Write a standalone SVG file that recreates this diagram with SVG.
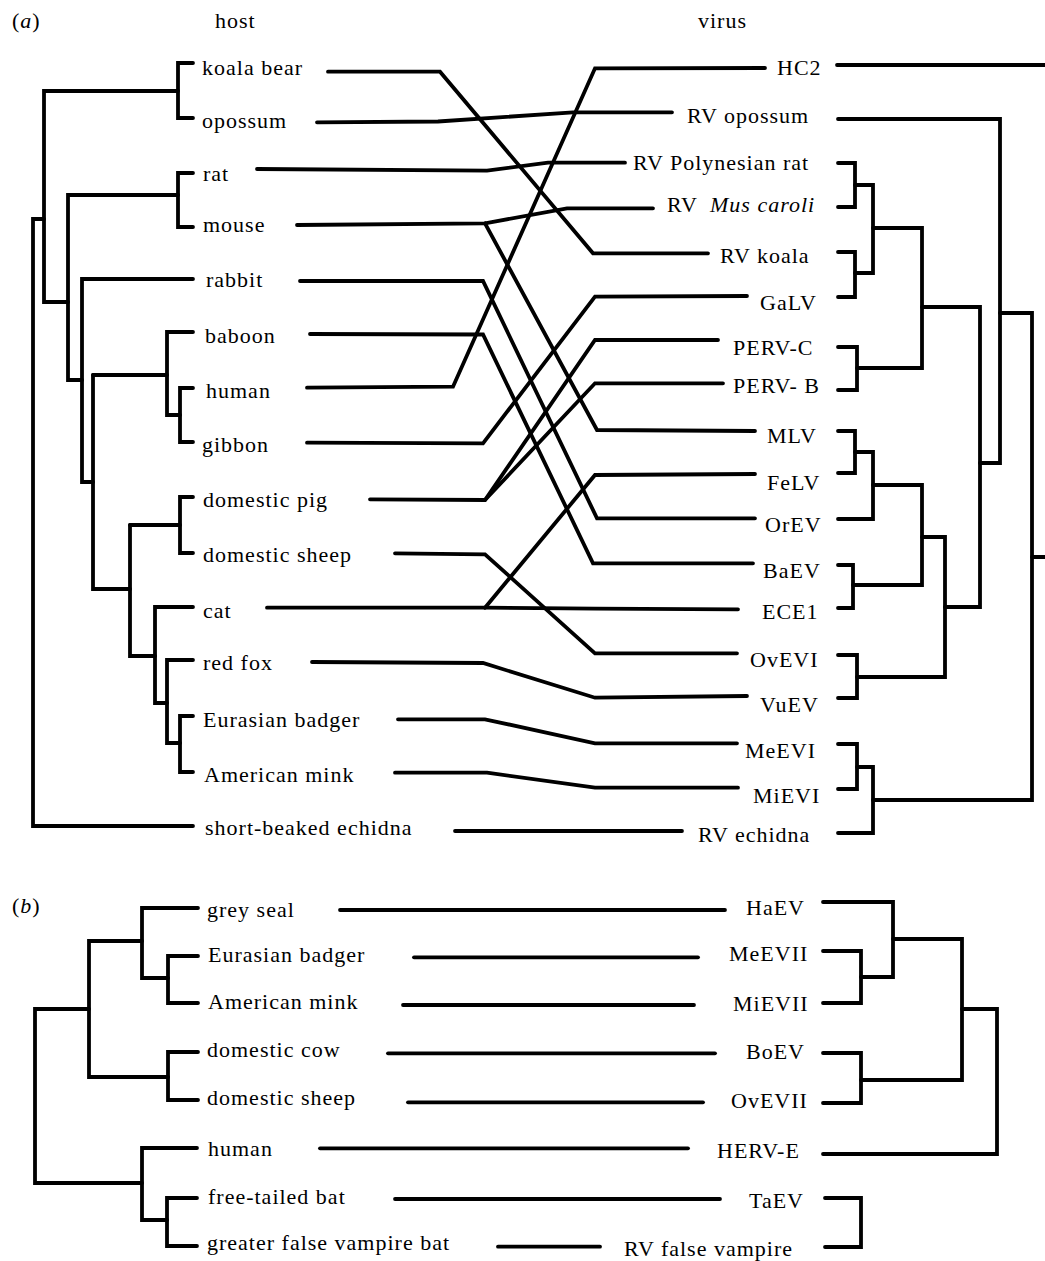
<svg xmlns="http://www.w3.org/2000/svg" width="1045" height="1261" viewBox="0 0 1045 1261">
<style>
text{font-family:"Liberation Serif","Times New Roman",serif;font-size:22px;letter-spacing:1px;fill:#000}
.it{font-style:italic}
.tr{fill:none;stroke:#000;stroke-width:3.8;stroke-linecap:round;stroke-linejoin:miter}
.cn{fill:none;stroke:#000;stroke-width:3.8;stroke-linecap:round;stroke-linejoin:miter}
</style>
<rect width="1045" height="1261" fill="#fff"/>
<g id="titles">
<text x="12" y="28">(<tspan class="it">a</tspan>)</text>
<text x="215" y="28">host</text>
<text x="698" y="28">virus</text>
<text x="12" y="913">(<tspan class="it">b</tspan>)</text>
</g>
<g id="connectors">
<g id="host-tree-a" class="tr">
<path d="M193,63 H178 V118 H193"/>
<path d="M178,91 H44 V302 H68"/>
<path d="M193,173 H178 V227 H193"/>
<path d="M178,195 H68 V380 H82"/>
<path d="M193,279 H82 V482 H93"/>
<path d="M93,375 V589 H130"/>
<path d="M93,375 H167"/>
<path d="M193,332 H167 V415 H180"/>
<path d="M193,388 H180 V442 H193"/>
<path d="M130,525 V656 H155"/>
<path d="M130,525 H180"/>
<path d="M193,497 H180 V553 H193"/>
<path d="M193,607 H155 V703 H167"/>
<path d="M193,660 H167 V743 H180"/>
<path d="M193,716 H180 V772 H193"/>
<path d="M44,219 H33 V826 H193"/>
</g>
<g id="virus-tree-a" class="tr">
<path d="M837,65 H1048"/>
<path d="M838,119 H1000 V463 H980"/>
<path d="M1000,313 H1032 V800 H873"/>
<path d="M1032,557 H1048"/>
<path d="M922,307 H980 V607 H945"/>
<path d="M873,228 H922 V368 H857"/>
<path d="M838,163 H855 V207 H838"/>
<path d="M855,185 H873 V273 H855"/>
<path d="M838,252 H855 V297 H838"/>
<path d="M838,347 H857 V390 H838"/>
<path d="M922,537 H945 V677 H857"/>
<path d="M873,485 H922 V585 H853"/>
<path d="M838,431 H855 V473 H838"/>
<path d="M855,452 H873 V519 H838"/>
<path d="M838,565 H853 V608 H838"/>
<path d="M838,655 H857 V698 H838"/>
<path d="M838,744 H857 V789 H838"/>
<path d="M857,767 H873 V833 H838"/>
</g>
<g id="links-a" class="cn">
<polyline points="328,71.7 440,71.7 593,253.3 708,253.3"/>
<polyline points="317,122.3 438,121.5 573,112.3 672,112.3"/>
<polyline points="257,169 487,170.7 548,162.7 625,162.7"/>
<polyline points="297,225 485,223.3 567,208.3 653,208.3"/>
<polyline points="485,223.3 597,430 755,431"/>
<polyline points="300,281 483,281 597,518.3 755,518.3"/>
<polyline points="310,334 483,334.5 593,563.3 753,563.3"/>
<polyline points="307,387.7 453,386.7 595,68.3 765,68"/>
<polyline points="307,442.7 483,443.3 595,296.7 747,296"/>
<polyline points="370,499.3 485,500 595,340 718,340"/>
<polyline points="485,500 595,383.3 723,383.3"/>
<polyline points="395,553.3 485,554.3 595,653.3 737,653.3"/>
<polyline points="267,607.7 485,607.7 595,608.7 738,609.3"/>
<polyline points="485,607.7 595,475 755,474"/>
<polyline points="312,662 483,663 595,697.7 747,696"/>
<polyline points="398,719.3 485,719.3 595,743.3 737,743.3"/>
<polyline points="395,772.7 487,772.7 595,787.7 738,787.7"/>
<polyline points="455,831 682,831"/>
</g>
<g id="host-tree-b" class="tr">
<path d="M198,908 H142 V978 H168"/>
<path d="M198,956 H168 V1003 H198"/>
<path d="M142,941 H89 V1077 H168"/>
<path d="M198,1052 H168 V1100 H198"/>
<path d="M89,1009 H35 V1183 H142"/>
<path d="M197,1148 H142 V1220 H167"/>
<path d="M197,1198 H167 V1246 H197"/>
</g>
<g id="virus-tree-b" class="tr">
<path d="M823,902 H893 V977 H861"/>
<path d="M823,951 H861 V1003 H823"/>
<path d="M893,939 H962 V1080 H861"/>
<path d="M823,1053 H861 V1103 H823"/>
<path d="M962,1009 H997 V1154 H823"/>
<path d="M825,1198 H861 V1247 H825"/>
</g>
<g id="links-b" class="cn">
<line x1="340" y1="910" x2="725" y2="910"/>
<line x1="414" y1="957.3" x2="698" y2="957.3"/>
<line x1="403" y1="1005" x2="694" y2="1005"/>
<line x1="388" y1="1053.3" x2="715" y2="1053.3"/>
<line x1="408" y1="1102.3" x2="703" y2="1102.3"/>
<line x1="320" y1="1148.3" x2="688" y2="1148.3"/>
<line x1="395" y1="1199" x2="720" y2="1199"/>
<line x1="498" y1="1246.7" x2="600" y2="1246.7"/>
</g>
</g>
<g id="hosts-a">
<g id="h-koala"><text x="202" y="75">koala bear</text></g>
<g id="h-opossum"><text x="202" y="128">opossum</text></g>
<g id="h-rat"><text x="203" y="181">rat</text></g>
<g id="h-mouse"><text x="203" y="232">mouse</text></g>
<g id="h-rabbit"><text x="206" y="287">rabbit</text></g>
<g id="h-baboon"><text x="205" y="343">baboon</text></g>
<g id="h-human"><text x="206" y="398">human</text></g>
<g id="h-gibbon"><text x="202" y="452">gibbon</text></g>
<g id="h-pig"><text x="203" y="507">domestic pig</text></g>
<g id="h-sheep"><text x="203" y="562">domestic sheep</text></g>
<g id="h-cat"><text x="203" y="618">cat</text></g>
<g id="h-fox"><text x="203" y="670">red fox</text></g>
<g id="h-badger"><text x="203" y="727">Eurasian badger</text></g>
<g id="h-mink"><text x="204" y="782">American mink</text></g>
<g id="h-echidna"><text x="205" y="835">short-beaked echidna</text></g>
</g>
<g id="viruses-a">
<g id="v-hc2"><text x="777" y="75">HC2</text></g>
<g id="v-rvopossum"><text x="687" y="123">RV opossum</text></g>
<g id="v-rvrat"><text x="633" y="170">RV Polynesian rat</text></g>
<g id="v-rvmus"><text x="667" y="212">RV </text><text x="710" y="212" class="it">Mus caroli</text></g>
<g id="v-rvkoala"><text x="720" y="263">RV koala</text></g>
<g id="v-galv"><text x="760" y="310">GaLV</text></g>
<g id="v-pervc"><text x="733" y="355">PERV-C</text></g>
<g id="v-pervb"><text x="733" y="393">PERV- B</text></g>
<g id="v-mlv"><text x="767" y="443">MLV</text></g>
<g id="v-felv"><text x="767" y="490">FeLV</text></g>
<g id="v-orev"><text x="765" y="532">OrEV</text></g>
<g id="v-baev"><text x="763" y="578">BaEV</text></g>
<g id="v-ece1"><text x="762" y="619">ECE1</text></g>
<g id="v-ovevi"><text x="750" y="667">OvEVI</text></g>
<g id="v-vuev"><text x="760" y="712">VuEV</text></g>
<g id="v-meevi"><text x="745" y="758">MeEVI</text></g>
<g id="v-mievi"><text x="753" y="803">MiEVI</text></g>
<g id="v-rvechidna"><text x="698" y="842">RV echidna</text></g>
</g>
<g id="hosts-b">
<g id="hb-seal"><text x="207" y="917">grey seal</text></g>
<g id="hb-badger"><text x="208" y="962">Eurasian badger</text></g>
<g id="hb-mink"><text x="208" y="1009">American mink</text></g>
<g id="hb-cow"><text x="207" y="1057">domestic cow</text></g>
<g id="hb-sheep"><text x="207" y="1105">domestic sheep</text></g>
<g id="hb-human"><text x="208" y="1156">human</text></g>
<g id="hb-ftbat"><text x="208" y="1204">free-tailed bat</text></g>
<g id="hb-gfvbat"><text x="207" y="1250">greater false vampire bat</text></g>
</g>
<g id="viruses-b">
<g id="vb-haev"><text x="746" y="915">HaEV</text></g>
<g id="vb-meevii"><text x="729" y="961">MeEVII</text></g>
<g id="vb-mievii"><text x="733" y="1011">MiEVII</text></g>
<g id="vb-boev"><text x="746" y="1059">BoEV</text></g>
<g id="vb-ovevii"><text x="731" y="1108">OvEVII</text></g>
<g id="vb-herve"><text x="717" y="1158">HERV-E</text></g>
<g id="vb-taev"><text x="749" y="1208">TaEV</text></g>
<g id="vb-rvfv"><text x="624" y="1256">RV false vampire</text></g>
</g>
</svg>
